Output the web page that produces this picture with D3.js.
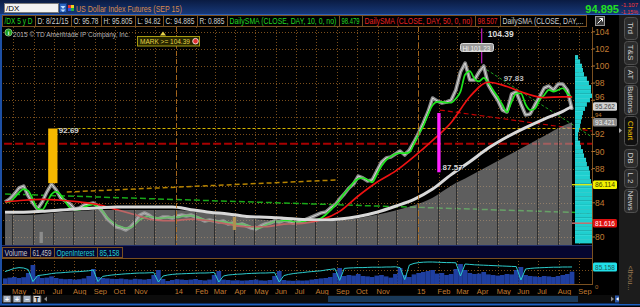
<!DOCTYPE html>
<html><head><meta charset="utf-8">
<script src="https://d3js.org/d3.v7.min.js"></script>
<style>html,body{margin:0;padding:0;background:#000;overflow:hidden}svg{display:block}text{font-family:"Liberation Sans",Arial,sans-serif}</style>
</head><body><svg id="c" width="640" height="307"></svg>
<script>
// ---------------- DATA ----------------
const firstWeek = "2013-04-19";
const closes = [84.09,84.44,85.03,85.73,85.96,84.80,83.98,83.27,84.09,85.26,
86.20,85.50,84.56,84.21,83.86,83.27,83.39,83.74,83.86,83.98,
83.63,82.92,82.11,81.64,81.17,81.05,80.82,81.17,81.75,82.57,
82.81,82.57,82.11,82.11,82.34,82.34,82.22,82.46,82.57,82.46,
82.57,82.34,82.11,81.87,81.99,81.87,81.75,81.87,81.52,81.64,
81.40,81.52,81.29,81.05,80.94,81.29,81.52,81.64,81.87,81.75,
81.99,81.87,81.64,81.75,81.87,82.11,82.34,82.57,82.81,82.92,
83.39,83.74,84.44,85.03,85.73,86.20,87.13,86.90,86.55,86.67,
87.72,88.77,89.24,89.36,89.71,90.06,89.59,90.18,91.11,92.16,
93.33,94.62,96.26,95.91,95.67,95.79,96.02,97.19,99.30,100.35,
98.36,98.36,99.30,100.00,97.78,96.84,96.02,94.85,94.62,96.73,
96.96,95.56,94.27,94.39,95.44,96.37,97.43,97.66,97.19,97.89,
97.89,97.19,94.89];
const sma10 = [84.1,84.1,84.6,85.2,85.6,85.4,84.4,83.3,83.2,84.0,
85.0,85.3,84.9,84.1,83.4,83.2,83.2,83.5,83.7,83.8,
83.5,83.0,82.3,81.8,81.4,81.2,81.05,81.1,81.5,82.0,
82.3,82.4,82.3,82.2,82.2,82.3,82.3,82.3,82.4,82.5,
82.5,82.4,82.2,82.0,81.9,81.9,81.8,81.8,81.7,81.6,
81.5,81.5,81.4,81.2,81.0,81.1,81.4,81.6,81.8,81.8,
81.9,81.9,81.8,81.7,81.8,81.9,81.9,82.0,82.2,82.6,
83.1,83.7,84.3,85.1,85.7,86.4,86.8,86.9,86.7,86.4,
87.3,88.3,89.0,89.4,89.7,89.8,89.8,89.9,90.9,92.0,
93.0,94.3,95.4,95.8,95.8,95.7,95.7,96.2,97.0,99.0,
99.4,98.5,98.2,98.6,98.0,97.2,96.4,95.5,94.6,95.8,
96.8,96.8,95.5,94.85,95.0,96.0,96.6,97.2,97.0,97.2,
97.4,96.8,96.3];
// slow averages, sampled every 4th week (weeks 0,4,...,120 and 122)
const sma50  = [84.1,84.3,84.4,84.3,84.1,83.8,83.2,82.6,82.0,81.9,82.1,81.9,81.5,81.2,81.2,81.5,81.6,82.0,83.0,84.8,86.4,87.7,89.4,91.3,93.4,96.4,98.1,97.6,96.8,96.3,96.4,96.4];
const sma100 = [82.9,82.9,83.0,83.15,83.3,83.4,83.5,83.5,83.5,83.5,83.2,82.9,82.7,82.4,82.3,82.2,82.05,82.0,82.1,82.4,82.9,83.6,84.4,85.6,87.3,88.8,90.4,91.7,92.8,93.8,94.7,95.26];
const sma200 = [82.69,82.57,82.69,82.92,83.04,83.16,83.16,83.16,83.16,83.16,83.04,82.81,82.57,82.22,81.99,81.87,81.75,81.75,81.95,82.2,82.6,83.1,83.7,84.6,86.0,87.13,88.30,89.47,90.64,91.81,92.98,93.42];
const volume = [28,32,35,30,34,55,95,40,30,32,
38,30,26,24,25,22,24,28,40,75,
35,30,28,26,25,27,24,22,26,24,
22,25,45,70,25,15,20,24,22,20,
22,25,20,18,22,45,65,22,20,18,
19,17,18,20,22,18,17,20,40,65,
20,17,16,18,17,18,22,25,28,30,
35,55,80,40,45,42,50,40,38,35,
42,45,38,32,50,80,45,35,48,55,
60,65,70,52,55,45,50,75,100,70,
55,50,52,60,48,45,42,45,50,48,
70,85,45,40,38,35,40,38,35,40,
45,50,61.5];
const openInterest = [62,70,78,82,80,72,12,42,45,48,
52,55,56,58,60,61,62,64,66,70,
12,38,42,45,47,49,51,52,54,55,
55,56,57,10,40,45,48,50,51,52,
53,54,55,55,56,58,10,40,45,47,
49,50,52,53,54,55,55,56,57,10,
42,48,52,55,57,60,62,64,66,70,
73,76,18,78,80,81,82,82,83,84,
84,84,85,85,86,82,22,95,103,107,
109,110,110,109,108,107,107,106,40,100,
98,96,95,94,93,92,91,90,89,88,
87,20,75,78,80,81,82,83,84,84,
85,85,85.158];
const profileLevels = [79.5,80,80.5,81,81.5,82,82.5,83,83.5,84,84.5,85,85.5,86,86.5,87,87.5,88,88.5,89,89.5,90,90.5,91,91.5,92,92.5,93,93.5,94,94.5,95,95.5,96,96.5,97,97.5,98,98.5,99,99.5,100,100.5,101];
const profileVol    = [100,100,100,100,100,100,100,100,100,100,100,100,100,100,94,88,88,82,70,65,53,47,35,30,18,18,24,30,35,41,47,59,70,88,100,94,94,82,70,53,47,41,30,18];
const priceTicks = [80,82,84,86,88,90,92,94,96,98,100,102,104];
const hiddenTicks = [82,86];   // fully covered by value flags in the reference
const tickLabels = ["May","Jun","Jul","Aug","Sep","Oct","Nov","","14","Feb","Mar","Apr","May","Jun","Jul","Aug","Sep","Oct","Nov","","15","Feb","Mar","Apr","May","Jun","Jul","Aug","Sep"];
const headerCells = ["/DX 5 y D","D: 8/21/15","O: 95.78","H: 95.805","L: 94.82","C: 94.885","R: 0.885","DailySMA (CLOSE, DAY, 10, 0, no)","98.479","DailySMA (CLOSE, DAY, 50, 0, no)","98.507","DailySMA (CLOSE, DAY,..."];
const headerColors = ["#22d822","#cfcfcf","#cfcfcf","#cfcfcf","#cfcfcf","#cfcfcf","#cfcfcf","#22d822","#22d822","#e82020","#e82020","#cfcfcf"];
const levelLines = [{price:92.69, from:"2013-07-07", color:"#d4b400", dash:"3,2", w:1},
                    {price:90.9,  from:"2013-04-01", color:"#a80000", dash:"8,3", w:2}];
const trendLines = [{p:[["2013-04-19",85.03],["2015-09-20",82.81]], color:"#18a818", dash:"6,3", w:1.5},
                    {p:[["2013-07-21",85.26],["2014-09-01",86.67]], color:"#b88400", dash:"5,3", w:1.5},
                    {p:[["2015-02-03",94.85],["2015-09-20",92.40]], color:"#c00000", dash:"5,3", w:1.2},
                    {p:[["2015-04-08",99.88],["2015-09-20",91.70]], color:"#1ea01e", dash:"3,2", w:1}];
const targetBars = [{start:"2013-06-23", end:"2013-07-07", top:92.69, bottom:86.3, color:"#f6b800", label:"92.69", lx:"2013-07-09", ly:92.2},
                    {start:"2015-01-30", end:"2015-02-04", top:94.5, bottom:87.57, color:"#ff22ff", label:"87.57", lx:"2015-02-07", ly:87.85}];
const markerBars = [{start:"2013-06-10", end:"2013-06-15", top:80.6, bottom:79.3, color:"#8c8c8c"},
                    {start:"2014-03-28", end:"2014-04-02", top:82.34, bottom:80.82, color:"#b09050"}];
const badges = [{v:95.262, t:"95.262", fill:"#d2d2d2", tc:"#404040"},
                {v:93.421, t:"93.421", fill:"#8a8a8a", tc:"#f0f0f0"},
                {v:86.114, t:"86.114", fill:"#f2f200", tc:"#404000"},
                {v:81.616, t:"81.616", fill:"#e01010", tc:"#ffffff"}];
const tabs = [["Trd",17,39],["T&S",41,64],["AT",66,83],["Buttons",85,114],["Chart",116,145],["DB",149,167],["L 2",169,187],["News",189,212]];

// ---------------- SETUP ----------------
const parse = d3.utcParse("%Y-%m-%d");
const svg = d3.select("#c");
const x = d3.scaleUtc().domain([new Date(Date.UTC(2013,4,1)), new Date(Date.UTC(2015,0,1))]).range([13,418]);
const y = d3.scaleLinear().domain([80,104]).range([237,31.8]);
const yv = d3.scaleLinear().domain([0,130]).range([284,258]);
const weeks = closes.map((_,i)=>d3.utcDay.offset(parse(firstWeek), 7*i));
const sampleIdx = d3.range(0,121,4).concat([122]);
const sampleDates = sampleIdx.map(i=>weeks[i]);
const monthStarts = d3.utcMonth.range(new Date(Date.UTC(2013,4,1)), new Date(Date.UTC(2015,8,2)));

const defs = svg.append("defs");
const gr = defs.append("linearGradient").attr("id","topbar").attr("x1",0).attr("y1",0).attr("x2",0).attr("y2",1);
gr.append("stop").attr("offset","0%").attr("stop-color","#0a1b42");
gr.append("stop").attr("offset","100%").attr("stop-color","#17397a");
defs.append("clipPath").attr("id","plotClip").append("rect").attr("x",3).attr("y",27).attr("width",589).attr("height",218);
defs.append("clipPath").attr("id","volClip").append("rect").attr("x",3).attr("y",258).attr("width",589).attr("height",26);

svg.append("rect").attr("width",640).attr("height",307).attr("fill","#000");

// text squeezed horizontally to a given width (via a scale transform so its box is true)
function fitText(g, x0, yb, str, len, color, size, weight){
  const t = g.append("text").attr("x",0).attr("y",0).attr("fill",color).attr("font-size",size).text(str);
  if(weight) t.attr("font-weight",weight);
  let s = 1;
  if(len){ const w = t.node().getComputedTextLength(); if(w>0) s = len / w; }
  t.attr("transform",`translate(${x0},${yb}) scale(${s},1)`);
  return t;
}

// ---------------- TOP BAR ----------------
svg.append("rect").attr("x",0).attr("y",0).attr("width",640).attr("height",14.5).attr("fill","url(#topbar)");
svg.append("line").attr("x1",0).attr("x2",640).attr("y1",14.5).attr("y2",14.5).attr("stroke","#2b5fb8");
svg.append("rect").attr("x",4.5).attr("y",3.5).attr("width",54).attr("height",9).attr("fill","#f2f2f2").attr("stroke","#7a7a7a");
fitText(svg,6,11,"/DX",null,"#000",8);
svg.append("rect").attr("x",59.5).attr("y",3.5).attr("width",7).attr("height",9).attr("fill","#2b64c0").attr("stroke","#123a80");
svg.append("path").attr("d","M60.5,6 h5 l-2.5,3 z M60.5,9.5 h5 l-2.5,2.5 z").attr("fill","#bfe0ff");
svg.append("rect").attr("x",68).attr("y",5).attr("width",3).attr("height",3).attr("fill","#e83030");
svg.append("rect").attr("x",71).attr("y",5).attr("width",3).attr("height",3).attr("fill","#f0d020");
svg.append("rect").attr("x",68).attr("y",8).attr("width",3).attr("height",3).attr("fill","#3050e0");
svg.append("rect").attr("x",71).attr("y",8).attr("width",3).attr("height",3).attr("fill","#20b040");
fitText(svg,76,11.5,"US Dollar Index Futures (SEP 15)",106,"#d98a4c",9.5);
svg.append("text").attr("x",619).attr("y",12.5).attr("text-anchor","end").attr("font-size",11).attr("font-weight","bold").attr("fill","#22e022").text("94.895");
fitText(svg,621,6.5,"-1.107",17,"#ff3838",6);
fitText(svg,621,13.5,"-1.15%",17,"#ff3838",6);

// ---------------- HEADER ROW ----------------
const cellEdges = [2,35,71,101,135,163,197,227,339,362,475,500,586];
const hdr = svg.append("g");
headerCells.forEach((s,i)=>{
  const a = cellEdges[i], b = cellEdges[i+1];
  hdr.append("rect").attr("x",a+0.5).attr("y",15.5).attr("width",b-a).attr("height",11).attr("fill","#000").attr("stroke","#7a5020");
});
headerCells.forEach((s,i)=>{
  const a = cellEdges[i], b = cellEdges[i+1];
  fitText(hdr,a+2.5,24.3,s,b-a-5,headerColors[i],9);
});
svg.append("rect").attr("x",595.5).attr("y",16.5).attr("width",9).attr("height",9).attr("fill","#3a3a3a").attr("stroke","#9a9a9a");
svg.append("path").attr("d","M597.5,23.5 l5,-5 m-3,0 h3 v3").attr("stroke","#fff").attr("fill","none");

// ---------------- MAIN PLOT ----------------
const main = svg.append("g").attr("clip-path","url(#plotClip)");
main.selectAll(".hg").data(priceTicks).join("line")
  .attr("x1",3).attr("x2",592).attr("y1",d=>Math.round(y(d))+0.5).attr("y2",d=>Math.round(y(d))+0.5)
  .attr("stroke","#7a4e1c").attr("stroke-dasharray","1,2");
main.selectAll(".vg").data(monthStarts).join("line")
  .attr("x1",d=>Math.round(x(d))+0.5).attr("x2",d=>Math.round(x(d))+0.5).attr("y1",27).attr("y2",245)
  .attr("stroke","#7a4e1c").attr("stroke-dasharray","1,2");

// level & trend lines
levelLines.forEach(l=>{
  main.append("line").attr("x1",x(parse(l.from))).attr("x2",592).attr("y1",y(l.price)).attr("y2",y(l.price))
    .attr("stroke",l.color).attr("stroke-width",l.w).attr("stroke-dasharray",l.dash);
});
trendLines.forEach(t=>{
  main.append("line").attr("x1",x(parse(t.p[0][0]))).attr("y1",y(t.p[0][1])).attr("x2",x(parse(t.p[1][0]))).attr("y2",y(t.p[1][1]))
    .attr("stroke",t.color).attr("stroke-width",t.w).attr("stroke-dasharray",t.dash);
});

// price & averages
const lineLin = d3.line().x(d=>x(d[0])).y(d=>y(d[1]));
const lineSm = d3.line().x(d=>x(d[0])).y(d=>y(d[1])).curve(d3.curveMonotoneX);
const priceData = weeks.map((d,i)=>[d,closes[i]]);
main.append("path").attr("d",lineLin(priceData)).attr("fill","none").attr("stroke","#8c8c8c").attr("stroke-width",3.6).attr("stroke-linejoin","round");
main.append("path").attr("d",lineLin(priceData)).attr("fill","none").attr("stroke","#d6d6d6").attr("stroke-width",1).attr("stroke-linejoin","round");
main.append("path").attr("d",lineSm(weeks.map((d,i)=>[d,sma10[i]]))).attr("fill","none").attr("stroke","#1ee61e").attr("stroke-width",1.7);
main.append("path").attr("d",lineSm(sampleDates.map((d,i)=>[d,sma50[i]]))).attr("fill","none").attr("stroke","#ee1212").attr("stroke-width",1.7);

// grey long-average histogram area
const area = d3.area().x(d=>x(d[0])).y0(245).y1(d=>y(d[1])).curve(d3.curveMonotoneX);
const greyData = sampleDates.map((d,i)=>[d,sma200[i]]);
main.append("path").attr("d",area(greyData)).attr("fill","#9c9c9c").attr("fill-opacity",0.6);
defs.append("clipPath").attr("id","greyClip").append("path").attr("d",area(greyData));
main.append("g").attr("clip-path","url(#greyClip)").selectAll("line").data(monthStarts).join("line")
  .attr("x1",d=>Math.round(x(d))-0.5).attr("x2",d=>Math.round(x(d))-0.5).attr("y1",27).attr("y2",245)
  .attr("stroke","#2e2e2e").attr("stroke-width",1);
main.append("path").attr("d",lineSm(sampleDates.map((d,i)=>[d,sma100[i]]))).attr("fill","none").attr("stroke","#d8d8d8").attr("stroke-width",3);

// year separators
main.selectAll(".yr").data(monthStarts.filter(d=>d.getUTCMonth()===0)).join("line")
  .attr("x1",d=>Math.round(x(d))+0.5).attr("x2",d=>Math.round(x(d))+0.5).attr("y1",27).attr("y2",245)
  .attr("stroke","#b8721e").attr("stroke-dasharray","5,3").attr("stroke-opacity",0.85);

// annotation bars
function shadowText(g,x0,yb,str,size,color,weight){
  g.append("text").attr("x",x0+0.8).attr("y",yb+0.8).attr("font-size",size).attr("font-weight",weight||"normal").attr("fill","#000").attr("fill-opacity",0.9).text(str);
  g.append("text").attr("x",x0).attr("y",yb).attr("font-size",size).attr("font-weight",weight||"normal").attr("fill",color).text(str);
}
targetBars.forEach(b=>{
  const x0 = x(parse(b.start)), x1 = x(parse(b.end));
  main.append("rect").attr("x",x0).attr("y",y(b.top)).attr("width",x1-x0).attr("height",y(b.bottom)-y(b.top)).attr("fill",b.color);
  shadowText(main,x(parse(b.lx)),y(b.ly),b.label,8,"#d4d4d4","bold");
});
markerBars.forEach(b=>{
  const x0 = x(parse(b.start)), x1 = x(parse(b.end));
  main.append("rect").attr("x",x0).attr("y",y(b.top)).attr("width",x1-x0).attr("height",y(b.bottom)-y(b.top)).attr("fill",b.color);
});
// high marker
const hiX = x(parse("2015-04-07"));
main.append("line").attr("x1",hiX).attr("x2",hiX).attr("y1",y(104.39)).attr("y2",y(100.3)).attr("stroke","#e020e0").attr("stroke-width",1);
shadowText(main,hiX+6,y(103.35),"104.39",8.5,"#d8d8d8","bold");
main.append("rect").attr("x",460.5).attr("y",43.5).attr("width",33).attr("height",8).attr("rx",2).attr("fill","#9a9a9a").attr("stroke","#dcdcdc");
fitText(main,462.5,50.5,"Hi 101.23",28,"#f0f0f0",7.5);
shadowText(main,x(parse("2015-05-10")),y(98.2),"97.83",8,"#bdbdbd","bold");

// copyright & alert
svg.append("circle").attr("cx",8.5).attr("cy",32.5).attr("r",3.6).attr("fill","#1aa01a").attr("stroke","#bfe8bf").attr("stroke-width",0.6);
svg.append("text").attr("x",8.5).attr("y",35).attr("text-anchor","middle").attr("font-size",6).attr("font-weight","bold").attr("fill","#fff").text("i");
fitText(svg,13,37,"2015 © TD Ameritrade IP Company, Inc.",117,"#b4b4b4",8);
svg.append("path").attr("d","M160,35.5 l3,-4 l3,4 z").attr("fill","#e6d448");
svg.append("rect").attr("x",137.5).attr("y",36.5).attr("width",62).attr("height",9.5).attr("fill","#262600").attr("stroke","#a89a10");
fitText(svg,140,44,"MARK >= 104.39",50,"#e6d448",7.5);
svg.append("circle").attr("cx",195.5).attr("cy",41.2).attr("r",2.8).attr("fill","#e03030").attr("stroke","#fff").attr("stroke-width",0.8);

// ---------------- VOLUME PROFILE ----------------
const px = d3.scaleLinear().domain([0,100]).range([575,592]);
const slot = y(80)-y(80.5);
const prof = svg.append("g");
profileLevels.forEach((lv,i)=>{
  prof.append("rect").attr("x",575).attr("y",y(lv+0.25)).attr("width",px(profileVol[i])-575).attr("height",slot).attr("fill","#1fcfcf");
  prof.append("line").attr("x1",575).attr("x2",px(profileVol[i])).attr("y1",y(lv+0.25)+0.25).attr("y2",y(lv+0.25)+0.25).attr("stroke","#5ee6e6").attr("stroke-width",0.5);
});
prof.append("line").attr("x1",572).attr("x2",592).attr("y1",y(86.114)).attr("y2",y(86.114)).attr("stroke","#f0f000").attr("stroke-width",1.2);
prof.append("line").attr("x1",572).attr("x2",592).attr("y1",y(81.616)).attr("y2",y(81.616)).attr("stroke","#c86a6a").attr("stroke-width",1.5);

// ---------------- PRICE AXIS ----------------
const BH = 8.5; // value-flag height
svg.append("line").attr("x1",592.5).attr("x2",592.5).attr("y1",27).attr("y2",285).attr("stroke","#7a5020");
svg.selectAll(".pt").data(priceTicks).join("line").attr("x1",592).attr("x2",595).attr("y1",d=>y(d)).attr("y2",d=>y(d)).attr("stroke","#b07030");
// place a tick label; if a value flag covers it, lift it just above that flag (shrinking if squeezed)
function tickPlacement(v){
  let fs = 8.5, b = y(v)+3;
  const hit = badges.find(bd=>{ const top=y(bd.v)-BH/2, bot=y(bd.v)+BH/2; return b+0.22*fs > top && b-0.91*fs < bot; });
  if(hit){
    const gapBot = y(hit.v)-BH/2;
    let gapTop = 27;
    badges.forEach(bd=>{ const bot=y(bd.v)+BH/2; if(bot<=gapBot && bot>gapTop) gapTop = bot; });
    fs = Math.min(8.5, (gapBot-gapTop-0.6)/1.13);
    b = gapBot - 0.22*fs - 0.2;
  }
  return {v, fs, b};
}
svg.selectAll(".pl").data(priceTicks.filter(d=>!hiddenTicks.includes(d)).map(tickPlacement)).join("text")
  .attr("x",595).attr("y",d=>d.b).attr("font-size",d=>d.fs).attr("fill","#c27c32").text(d=>d.v);
badges.forEach(b=>{
  svg.append("rect").attr("x",593).attr("y",y(b.v)-BH/2).attr("width",24).attr("height",BH).attr("rx",1.5).attr("fill",b.fill);
  fitText(svg,595,y(b.v)+2.5,b.t,20,b.tc,7.1);
});

// ---------------- VOLUME PANEL ----------------
svg.append("line").attr("x1",2).attr("x2",592).attr("y1",245.5).attr("y2",245.5).attr("stroke","#22306a");
svg.append("rect").attr("x",2).attr("y",246).attr("width",590).attr("height",12).attr("fill","#060630");
const vEdges = [2,30,54,97,122];
const vTxt = ["Volume","61,459","OpenInterest","85,158"];
const vCol = ["#c4c4c4","#c4c4c4","#22d2d2","#22d2d2"];
vTxt.forEach((s,i)=>{
  svg.append("rect").attr("x",vEdges[i]+0.5).attr("y",247.5).attr("width",vEdges[i+1]-vEdges[i]).attr("height",10).attr("fill","none").attr("stroke","#7a5020");
  fitText(svg,vEdges[i]+2.5,255.8,s,vEdges[i+1]-vEdges[i]-5,vCol[i],8.5);
});
const vol = svg.append("g").attr("clip-path","url(#volClip)");
vol.selectAll(".vg").data(monthStarts).join("line")
  .attr("x1",d=>Math.round(x(d))+0.5).attr("x2",d=>Math.round(x(d))+0.5).attr("y1",258).attr("y2",284)
  .attr("stroke","#7a4e1c").attr("stroke-dasharray","1,2");
vol.append("line").attr("x1",3).attr("x2",592).attr("y1",270.5).attr("y2",270.5).attr("stroke","#7a4e1c").attr("stroke-dasharray","1,2");
vol.selectAll(".vb").data(volume).join("rect")
  .attr("x",(d,i)=>x(weeks[i])-2.35).attr("width",4.7).attr("y",d=>yv(d)).attr("height",d=>284-yv(d)).attr("fill","#1f3fa0");
vol.append("path").attr("d",d3.line().x((d,i)=>x(weeks[i])).y(d=>yv(d))(openInterest)).attr("fill","none").attr("stroke","#2ccccc").attr("stroke-width",1);
svg.append("line").attr("x1",2).attr("x2",592).attr("y1",258.5).attr("y2",258.5).attr("stroke","#7a5020");
svg.append("line").attr("x1",2).attr("x2",592).attr("y1",284.5).attr("y2",284.5).attr("stroke","#7a5020");
svg.append("rect").attr("x",593).attr("y",yv(85.158)-4.5).attr("width",24).attr("height",9).attr("rx",1.5).attr("fill","#22e0e8");
fitText(svg,595,yv(85.158)+3,"85.158",20,"#205858",8);
svg.append("text").attr("x",595).attr("y",289).attr("font-size",6).attr("fill","#b07030").text("0");

// month labels
svg.selectAll(".ml").data(monthStarts).join("text")
  .attr("x",d=>x(d)-1).attr("y",293.5).attr("font-size",7.5).attr("fill","#c27c32").text((d,i)=>tickLabels[i]);

// ---------------- BOTTOM TOOLBAR ----------------
svg.append("rect").attr("x",2).attr("y",295).attr("width",616).attr("height",8).attr("fill","#0c0c0c");
["+","+","−","T"].forEach((s,i)=>{
  svg.append("rect").attr("x",3+i*10).attr("y",295.5).attr("width",8).attr("height",7).attr("rx",1).attr("fill",i===3?"#d8d8d8":"#a8b4c4").attr("stroke","#404040");
  svg.append("text").attr("x",7+i*10).attr("y",302).attr("text-anchor","middle").attr("font-size",7).attr("font-weight","bold").attr("fill",i===3?"#000":"#fff").text(s);
});
svg.append("path").attr("d","M44,299 l3,-2.5 v5 z").attr("fill","#888");
svg.append("rect").attr("x",328).attr("y",296).attr("width",250).attr("height",6).attr("fill","#1a3958");
svg.append("path").attr("d","M611,296.5 l3,2.5 l-3,2.5 z").attr("fill","#888");
svg.append("rect").attr("x",615).attr("y",295.5).attr("width",9).attr("height",7).attr("fill","#2a56a8");
svg.append("path").attr("d","M616,299 l2.5,-2 v4 z M623,299 l-2.5,-2 v4 z M618,298.5 h3 v1 h-3z").attr("fill","#fff");
svg.append("rect").attr("x",0).attr("y",303.5).attr("width",640).attr("height",2).attr("fill","#1d5fc0");
svg.append("rect").attr("x",0).attr("y",14).attr("width",2).attr("height",291).attr("fill","#1d4fa4");

// ---------------- RIGHT SIDEBAR ----------------
svg.append("rect").attr("x",619).attr("y",15).attr("width",21).attr("height",289).attr("fill","#1c1c1c");
tabs.forEach(t=>{
  const active = t[0]==="Chart";
  svg.append("rect").attr("x",624.5).attr("y",t[1]+0.5).attr("width",13).attr("height",t[2]-t[1]).attr("rx",3)
    .attr("fill",active?"#101010":"#2c2c2c").attr("stroke","#505050");
  const cy = (t[1]+t[2])/2;
  svg.append("text").attr("x",631).attr("y",cy).attr("transform",`rotate(90,631,${cy})`).attr("dy","0.33em")
    .attr("text-anchor","middle").attr("font-size",8).attr("fill",active?"#f0c000":"#cfcfcf").text(t[0]);
});
svg.append("path").attr("d","M619,128 l3,2.5 l-3,2.5 z").attr("fill","#aaa");
svg.append("text").attr("x",630).attr("y",278).attr("transform","rotate(90,630,278)").attr("dy","0.33em")
  .attr("text-anchor","middle").attr("font-size",7.5).attr("fill","#9a7a50").text("<thou...");
</script></body></html>
